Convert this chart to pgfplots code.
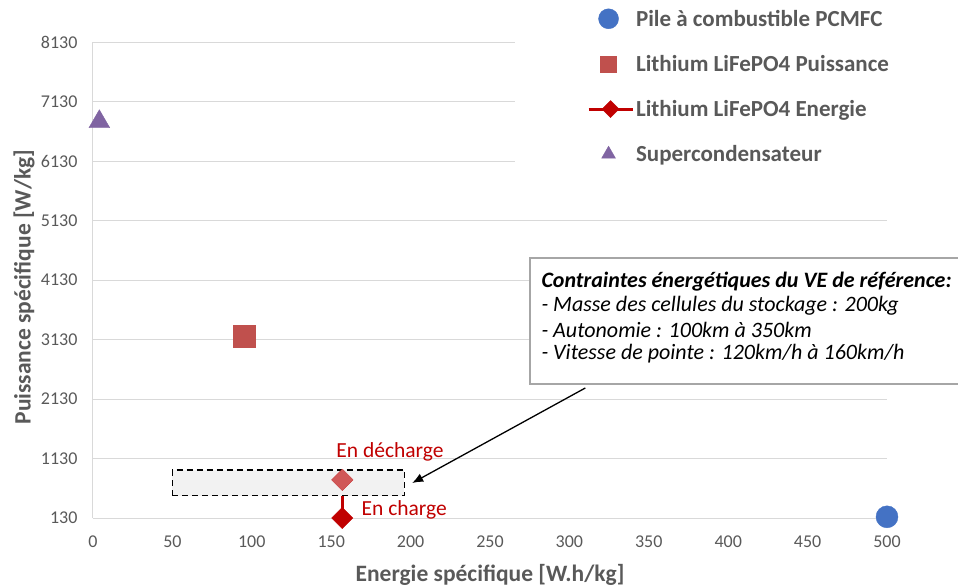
\documentclass[border=0pt]{standalone}
\usepackage{pgfplots}
\pgfplotsset{compat=1.18}
\usepackage{fontspec}
\setmainfont{Carlito}
\usetikzlibrary{arrows.meta}

\definecolor{txtgray}{HTML}{595959}
\definecolor{gridgray}{HTML}{D9D9D9}
\definecolor{pcblue}{HTML}{4472C4}
\definecolor{lired}{HTML}{C0504D}
\definecolor{darkred}{HTML}{C00000}
\definecolor{lightdia}{RGB}{208,88,88}
\definecolor{supviolet}{HTML}{8064A2}

\begin{document}
\begin{tikzpicture}
% image frame: 958x586 px, 1px = 1pt, axis box lower left at px (93,518)
\path[use as bounding box] (-93pt,-68pt) rectangle (865pt,518pt);
\begin{axis}[
    scale only axis,
    width=794pt, height=476pt,
    xmin=0, xmax=500, ymin=130, ymax=8130,
    xtick={0,50,...,500},
    ytick={130,1130,...,8130},
    ymajorgrids,
    grid style={gridgray, line width=1pt},
    axis x line=bottom, axis y line=left,
    axis line style={gridgray, line width=1pt, -},
    major tick length=0pt,
    clip=false,
    tick label style={font=\fontsize{18}{20}\selectfont, text=txtgray},
    xticklabel style={yshift=-14pt},
    yticklabel style={xshift=-12pt},
    /pgf/number format/assume math mode=true,
    /pgf/number format/set thousands separator={},
    xlabel={Energie spécifique [W.h/kg]},
    ylabel={Puissance spécifique [W/kg]},
    label style={font=\bfseries\fontsize{23.5}{26}\selectfont, text=txtgray},
    xlabel style={at={(axis description cs:0.5,-0.12)}, anchor=center},
    ylabel style={at={(axis description cs:-0.087,0.485)}, anchor=center, rotate=0},
    legend style={draw=none, fill=none, at={(axis description cs:0.622,1.072)}, anchor=north west,
        font=\bfseries\fontsize{23}{26}\selectfont, text=txtgray, row sep=23.5pt, inner sep=0pt,
        /tikz/every even column/.append style={column sep=2pt}},
    legend cell align=left,
]
% white cover behind the legend
\fill[white] (rel axis cs:0.5315,0.70) rectangle (rel axis cs:1.02,1.1);

\addplot[only marks, mark=*, mark size=11pt, color=pcblue,
    legend image code/.code={\draw[mark size=10pt] plot coordinates {(20pt,0pt)};}]
    coordinates {(500,150)};
\addlegendentry{Pile à combustible PCMFC}

\addplot[only marks, mark=square*, mark size=11pt, color=lired,
    legend image code/.code={\draw[mark size=8pt] plot coordinates {(20pt,0pt)};}]
    coordinates {(95,3190)};
\addlegendentry{Lithium LiFePO4 Puissance}

\addplot[darkred, line width=3pt, mark=square*, mark size=7.5pt, mark options={rotate=45, solid, line width=0.4pt},
    legend image code/.code={\draw[mark repeat=2, mark phase=2, mark size=6pt] plot coordinates {(0pt,0pt) (22pt,0pt) (44pt,0pt)};}]
    coordinates {(157,770) (157,130)};
\addlegendentry{Lithium LiFePO4 Energie}

\addplot[only marks, mark=triangle*, mark size=12pt, color=supviolet,
    legend image code/.code={\draw[mark size=8pt] plot coordinates {(20pt,0pt)};}]
    coordinates {(4,6790)};
\addlegendentry{Supercondensateur}

% reference zone
\draw[black, dashed, line width=1.5pt, fill=black!5, dash pattern=on 6pt off 4pt]
    (axis cs:50,505) rectangle (axis cs:196,937);
% lighter marker for the discharge point
\addplot[forget plot, only marks, mark=square*, mark size=7.5pt, mark options={rotate=45, line width=0.4pt}, color=lightdia]
    coordinates {(157,770)};
\draw[black, line width=1.3pt, -{Latex[length=11pt,width=9pt]}] (axis cs:310,2315) -- (axis cs:201,718);

\node[text=darkred, font=\fontsize{21.5}{24}\selectfont] at (axis cs:187,1247) {En décharge};
\node[text=darkred, font=\fontsize{21.5}{24}\selectfont] at (axis cs:196,260) {En charge};
\end{axis}

% annotation box (runs past the right edge, as in the original)
\draw[fill=white, draw=black!35, line width=1.2pt] (437pt,134pt) rectangle (872pt,260pt);
\node[anchor=west, font=\bfseries\itshape\fontsize{22}{24}\selectfont] at (445pt,236pt) {Contraintes énergétiques du VE de référence:};
\node[anchor=west, font=\itshape\fontsize{22}{24}\selectfont] at (445pt,212pt) {- Masse des cellules du stockage : 200kg};
\node[anchor=west, font=\itshape\fontsize{22}{24}\selectfont] at (445pt,188pt) {- Autonomie : 100km à 350km};
\node[anchor=west, font=\itshape\fontsize{22}{24}\selectfont] at (445pt,164pt) {- Vitesse de pointe : 120km/h à 160km/h};
\end{tikzpicture}
\end{document}
